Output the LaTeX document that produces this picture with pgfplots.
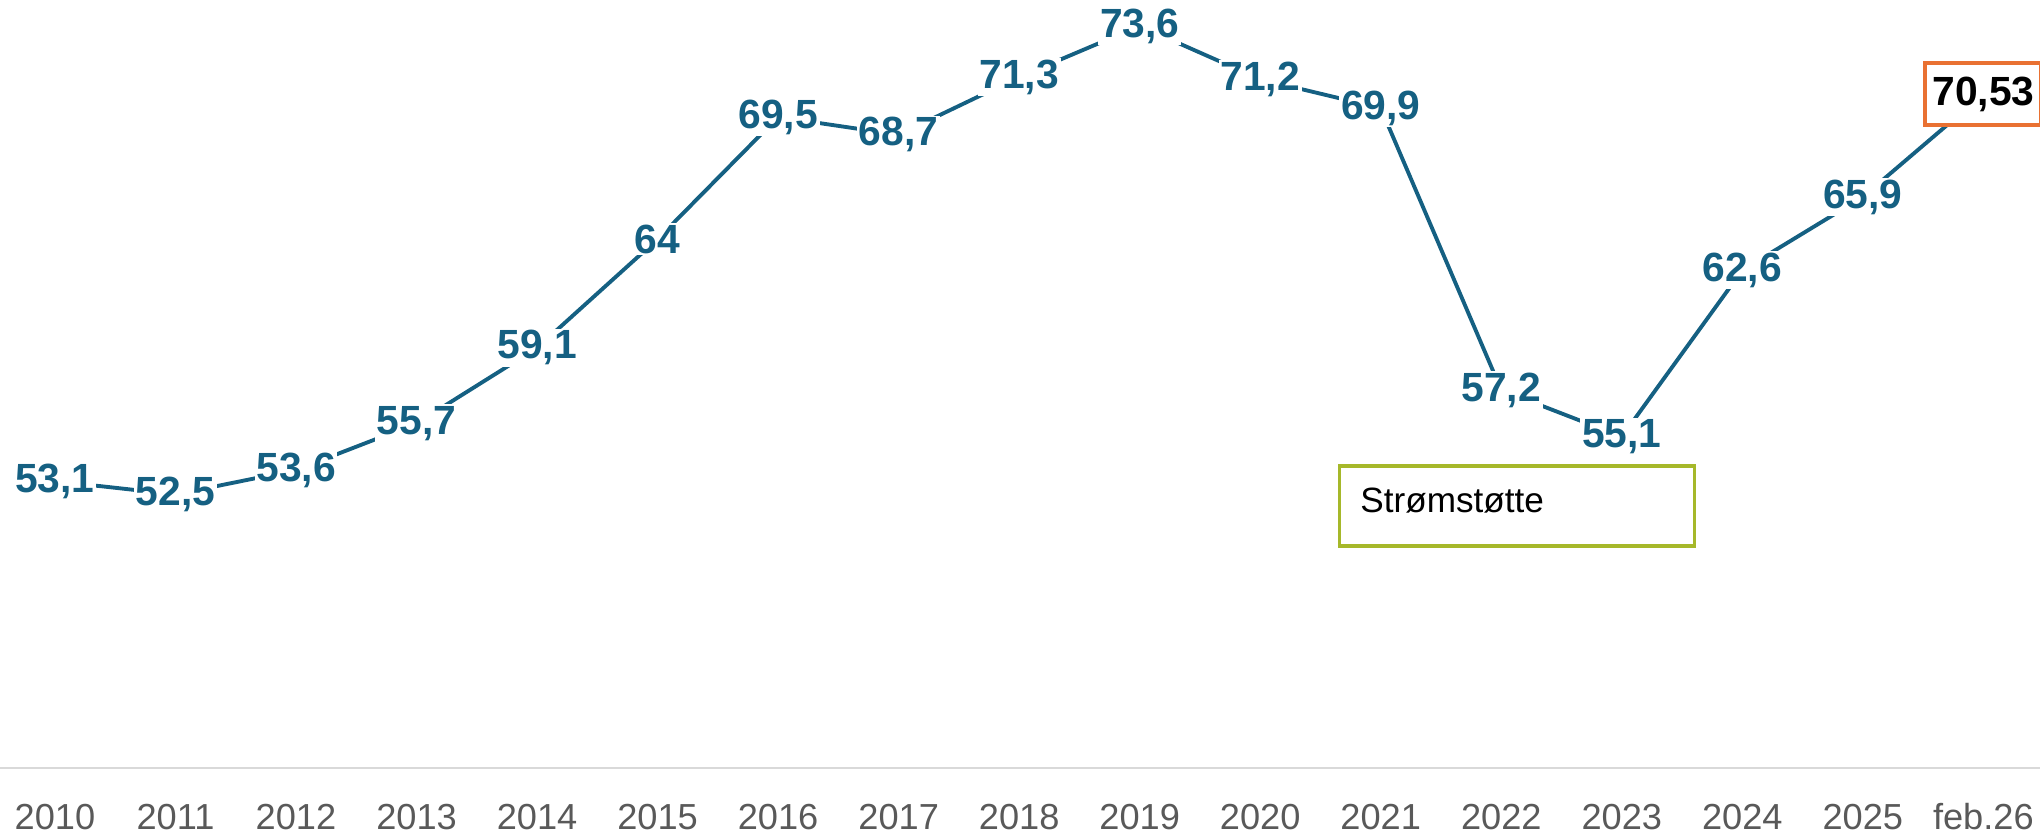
\documentclass[border=0pt]{standalone}
\usepackage{pgfplots}
\usepackage{pgfplotstable}
\pgfplotsset{compat=1.18}
\usepackage{fontspec}
\setmainfont{Liberation Sans}
\definecolor{lineblue}{HTML}{156082}
\definecolor{tickgray}{HTML}{595959}
\definecolor{axisgray}{HTML}{D9D9D9}
\definecolor{boxorange}{HTML}{E97132}
\definecolor{boxgreen}{HTML}{A6B82A}
\pgfplotstableread{
x y label
0 53.1 53,1
1 52.5 52,5
2 53.6 53,6
3 55.7 55,7
4 59.1 59,1
5 64 64
6 69.5 69,5
7 68.7 68,7
8 71.3 71,3
9 73.6 73,6
10 71.2 71,2
11 69.9 69,9
12 57.2 57,2
13 55.1 55,1
14 62.6 62,6
15 65.9 65,9
16 70.53 {}
}\datatable
\begin{document}
\begin{tikzpicture}
\useasboundingbox (0,0) rectangle (20.4cm,8.37cm);
\begin{axis}[
  at={(0,0.69cm)}, anchor=south west,
  scale only axis, width=20.4cm, height=7.68cm,
  xmin=-0.456, xmax=16.47, ymin=40.18, ymax=74.77,
  clip=false,
  axis x line=bottom, hide y axis,
  x axis line style={-, draw=axisgray, line width=0.6pt},
  xtick={0,...,16},
  xticklabels={2010,2011,2012,2013,2014,2015,2016,2017,2018,2019,2020,2021,2022,2023,2024,2025,feb.26},
  major tick length=0pt,
  xticklabel style={font=\fontsize{10.3}{12}\selectfont, text=tickgray, anchor=center, yshift=-0.49cm},
]
\addplot[lineblue, line width=1.1pt, no marks,
  point meta=explicit symbolic,
  nodes near coords,
  nodes near coords align=center,
  every node near coord/.append style={font=\bfseries\fontsize{11.6}{13}\selectfont, text=lineblue, fill=white, inner sep=0.5pt, anchor=center},
] table[x=x, y=y, meta=label] {\datatable};
\addplot[draw=none, no marks,
  nodes near coords={70,53},
  nodes near coords align=center,
  every node near coord/.append style={font=\bfseries\fontsize{11.6}{13}\selectfont, text=black, fill=white, draw=boxorange, line width=1.1pt, minimum width=1.16cm, minimum height=0.62cm, inner sep=1pt, anchor=center},
] coordinates {(16,70.53)};
\draw[boxgreen, line width=0.9pt] (axis cs:10.66,53.78) rectangle (axis cs:13.6,50.18);
\node[anchor=west, inner sep=0pt, font=\fontsize{10}{12}\selectfont, text=black] at ([xshift=0.2cm, yshift=-0.35cm]axis cs:10.66,53.78) {Strømstøtte};
\end{axis}
\end{tikzpicture}
\end{document}
